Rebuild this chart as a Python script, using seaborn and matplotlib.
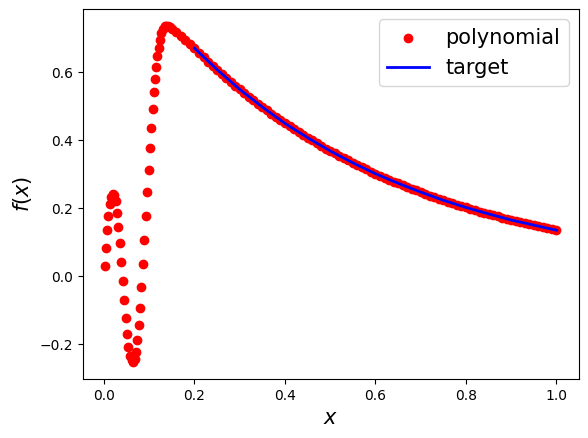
import numpy as np
import matplotlib
matplotlib.use("Agg")
import matplotlib.pyplot as plt
import seaborn as sns

# polynomial samples, sparse part near zero
sparse_x = [0.0027, 0.0045, 0.0068, 0.0098, 0.0125, 0.0160, 0.0190, 0.0225, 0.0260,
            0.0285, 0.0320, 0.0350, 0.0385, 0.0410, 0.0435, 0.0475, 0.0505, 0.0540,
            0.0585, 0.0620, 0.0650, 0.0680, 0.0700, 0.0725, 0.0765, 0.0785, 0.0820,
            0.0860, 0.0885, 0.0920, 0.0955, 0.0990, 0.1010, 0.1035, 0.1075, 0.1100,
            0.1135, 0.1155, 0.1178, 0.1205, 0.1230, 0.1260, 0.1300, 0.1340, 0.1380,
            0.1420, 0.1460]
sparse_y = [0.030, 0.083, 0.136, 0.178, 0.212, 0.234, 0.241, 0.238, 0.220,
            0.187, 0.145, 0.098, 0.042, -0.014, -0.070, -0.122, -0.169, -0.208,
            -0.235, -0.248, -0.253, -0.245, -0.223, -0.189, -0.145, -0.093, -0.031,
            0.035, 0.106, 0.178, 0.247, 0.313, 0.378, 0.435, 0.490, 0.540,
            0.581, 0.615, 0.648, 0.672, 0.694, 0.714, 0.728, 0.734, 0.736,
            0.735, 0.732]

# polynomial samples, dense part (x = 0.15 ... 1.00 every 0.01)
dense_x = np.round(np.arange(0.15, 1.0001, 0.01), 2)
dense_y = [0.728, 0.717, 0.705, 0.693, 0.682,
           0.670, 0.657, 0.644, 0.631, 0.619, 0.607, 0.595, 0.583, 0.571, 0.560,
           0.549, 0.538, 0.527, 0.517, 0.507, 0.497, 0.487, 0.477, 0.468, 0.458,
           0.449, 0.440, 0.432, 0.423, 0.415, 0.407, 0.399, 0.391, 0.383, 0.375,
           0.368, 0.361, 0.354, 0.347, 0.340, 0.333, 0.326, 0.320, 0.314, 0.307,
           0.301, 0.295, 0.289, 0.284, 0.278, 0.273, 0.267, 0.262, 0.257, 0.252,
           0.247, 0.242, 0.237, 0.232, 0.228, 0.223, 0.219, 0.214, 0.210, 0.206,
           0.202, 0.198, 0.194, 0.190, 0.186, 0.183, 0.179, 0.176, 0.172, 0.169,
           0.165, 0.162, 0.159, 0.156, 0.153, 0.150, 0.147, 0.144, 0.141, 0.138,
           0.135]

# target curve
target_x = [0.20, 0.25, 0.30, 0.35, 0.40, 0.45, 0.50, 0.55, 0.60,
            0.65, 0.70, 0.75, 0.80, 0.85, 0.90, 0.95, 1.00]
target_y = [0.670, 0.607, 0.549, 0.497, 0.449, 0.407, 0.368, 0.333, 0.301,
            0.273, 0.247, 0.223, 0.202, 0.183, 0.165, 0.150, 0.135]

poly_x = np.concatenate([sparse_x, dense_x])
poly_y = np.concatenate([sparse_y, dense_y])

fig = plt.figure(figsize=(5.88, 4.38), dpi=100)
ax = fig.add_axes([0.1406, 0.1347, 0.8441, 0.8448])

sns.scatterplot(x=poly_x, y=poly_y, color="red", s=36, edgecolor="red",
                linewidth=1, label="polynomial", ax=ax)
sns.lineplot(x=target_x, y=target_y, color="blue", linewidth=2,
             label="target", sort=False, errorbar=None, ax=ax)

ax.set_xlabel("$x$", fontsize=15)
ax.set_ylabel("$f(x)$", fontsize=15)
ax.legend(fontsize=15, loc="upper right")

fig.savefig("out.png", dpi=100)
